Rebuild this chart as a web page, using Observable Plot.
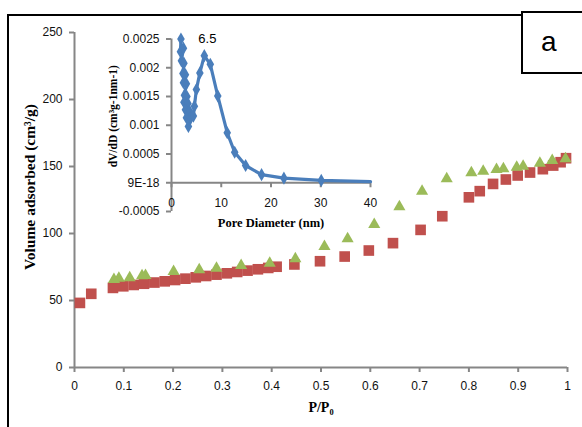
<!DOCTYPE html>
<html>
<head>
<meta charset="utf-8">
<script src="https://cdn.jsdelivr.net/npm/d3@7"></script>
<script src="https://cdn.jsdelivr.net/npm/@observablehq/plot@0.6"></script>
<style>
  html, body { margin: 0; padding: 0; background: #fff; }
  #wrap { position: relative; width: 582px; height: 427px; overflow: hidden; background: #fff; }
  #frame { position: absolute; left: 7px; top: 14px; width: 640px; height: 500px; border: 2px solid #000; }
  #main { position: absolute; left: 0; top: 0; }
  #inset { position: absolute; left: 90px; top: 20px; }
  #box { position: absolute; left: 521px; top: 11px; width: 90px; height: 63px; border: 2px solid #000; background: #fff; box-sizing: border-box; }
  #boxlabel { position: absolute; left: 541px; top: 28px; font: 28px "Liberation Sans", sans-serif; line-height: 28px; color: #000; }
</style>
</head>
<body>
<div id="wrap">
  <div id="frame"></div>
  <div id="main"></div>
  <div id="inset"></div>
  <div id="box"></div>
  <div id="boxlabel">a</div>
</div>
<script>
// ---- Main isotherm: adsorption (red squares) ----
const adsP = [0.011, 0.034, 0.078, 0.099, 0.120, 0.141, 0.162, 0.183, 0.204, 0.225, 0.246, 0.267, 0.288, 0.309, 0.330, 0.351, 0.372, 0.393, 0.410, 0.446, 0.498, 0.548, 0.597, 0.646, 0.702, 0.746, 0.800, 0.822, 0.849, 0.875, 0.899, 0.924, 0.950, 0.971, 0.986, 0.997];
const adsV = [48.2, 55.0, 59.4, 60.6, 61.6, 62.5, 63.4, 64.3, 65.3, 66.3, 67.3, 68.3, 69.3, 70.3, 71.3, 72.3, 73.3, 74.3, 75.2, 76.9, 79.3, 82.8, 87.3, 92.8, 102.7, 112.9, 127.0, 131.6, 137.0, 140.3, 143.3, 145.5, 148.0, 150.7, 153.2, 156.2];
// ---- desorption (green triangles) ----
const desP = [0.996, 0.969, 0.944, 0.910, 0.897, 0.870, 0.856, 0.829, 0.805, 0.755, 0.705, 0.659, 0.608, 0.554, 0.507, 0.448, 0.396, 0.338, 0.288, 0.253, 0.201, 0.144, 0.137, 0.112, 0.090, 0.080];
const desV = [155.7, 154.5, 152.5, 150.2, 149.5, 148.3, 147.8, 146.5, 145.3, 140.8, 131.6, 120.0, 106.7, 96.0, 90.3, 81.1, 77.8, 76.1, 74.1, 72.9, 71.6, 68.7, 68.4, 66.9, 66.6, 65.7];

const xTicks = [0, 0.1, 0.2, 0.3, 0.4, 0.5, 0.6, 0.7, 0.8, 0.9, 1];
const xTickLabels = ["0", "0.1", "0.2", "0.3", "0.4", "0.5", "0.6", "0.7", "0.8", "0.9", "1"];
const yTicks = [0, 50, 100, 150, 200, 250];
const yTickLabels = ["0", "50", "100", "150", "200", "250"];

// ---- Inset: pore size distribution ----
const poreD = [1.9, 1.8, 2.4, 2.0, 2.5, 2.3, 2.8, 2.4, 3.0, 2.6, 3.1, 2.5, 3.3, 2.8, 3.6, 3.0, 3.8, 3.4, 4.4, 4.6, 5.0, 5.7, 6.6, 7.8, 9.3, 11.2, 12.7, 14.9, 18.1, 22.6, 30.1, 40];
const poreV = [0.00250, 0.00228, 0.00234, 0.00212, 0.00208, 0.00190, 0.00188, 0.00174, 0.00172, 0.00152, 0.00150, 0.00140, 0.00138, 0.00127, 0.00125, 0.00113, 0.00113, 0.00098, 0.00116, 0.00133, 0.00162, 0.00191, 0.00221, 0.00206, 0.00151, 0.00087, 0.00053, 0.00030, 0.00014, 0.00008, 0.00004, 0.00002];
const poreMarked = poreD.map((d, i) => i < poreD.length - 1);
const insetXTicks = [0, 10, 20, 30, 40];
const insetXLabels = ["0", "10", "20", "30", "40"];
const insetYTicks = [-0.0005, 0, 0.0005, 0.001, 0.0015, 0.002, 0.0025];
const insetYLabels = ["-0.0005", "9E-18", "0.0005", "0.001", "0.0015", "0.002", "0.0025"];
const peakIndex = 22;
const peakText = "6.5";

const ads = adsP.map((p, i) => ({p, v: adsV[i]}));
const des = desP.map((p, i) => ({p, v: desV[i]}));
const pore = poreD.map((d, i) => ({d, v: poreV[i], m: poreMarked[i]}));

const axisGray = "#868686";
const serif = "'Liberation Serif', 'Times New Roman', serif";

const main = Plot.plot({
  width: 582, height: 427,
  marginLeft: 74, marginRight: 15, marginTop: 32, marginBottom: 60,
  style: {background: "transparent", fontFamily: "'Liberation Sans', sans-serif", fontSize: "12px", color: "#000"},
  x: {domain: [0, 1]},
  y: {domain: [0, 250]},
  marks: [
    Plot.axisX(xTicks, {tickSize: 5, tickPadding: 9, stroke: axisGray, strokeWidth: 2, fill: "#111", tickFormat: d => xTickLabels[xTicks.indexOf(d)], label: null}),
    Plot.axisY(yTicks, {tickSize: 5, tickPadding: 7, stroke: axisGray, strokeWidth: 2, fill: "#111", tickFormat: d => yTickLabels[yTicks.indexOf(d)], label: null}),
    Plot.ruleY([0], {stroke: axisGray, strokeWidth: 2}),
    Plot.ruleX([0], {stroke: axisGray, strokeWidth: 2}),
    Plot.dot(ads, {x: "p", y: "v", symbol: "square", r: 6, fill: "#C0504D"}),
    Plot.dot(des, {x: "p", y: "v", symbol: "triangle", r: 4.5, fill: "#9BBB59"}),
    Plot.text(["P/P\u2080"], {frameAnchor: "bottom", textAnchor: "middle", lineAnchor: "middle", dy: 40, fontFamily: serif, fontWeight: "bold", fontSize: 14, fill: "#000"}),
    Plot.text(["Volume adsorbed (cm\u00B3/g)"], {frameAnchor: "left", textAnchor: "middle", lineAnchor: "middle", rotate: -90, dx: -44, dy: -13, fontFamily: serif, fontWeight: "bold", fontSize: 15.5, fill: "#000"})
  ]
});
document.getElementById("main").appendChild(main);

const inset = Plot.plot({
  width: 300, height: 215,
  marginLeft: 81, marginRight: 20, marginTop: 18.5, marginBottom: 24,
  style: {background: "transparent", fontFamily: "'Liberation Sans', sans-serif", fontSize: "12px", color: "#000"},
  x: {domain: [0, 40], axis: null},
  y: {domain: [-0.0005, 0.0025], axis: null},
  marks: [
    Plot.axisY(insetYTicks, {tickSize: 5, tickPadding: 7, stroke: axisGray, strokeWidth: 2, fill: "#111", tickFormat: d => insetYLabels[insetYTicks.indexOf(d)], label: null}),
    Plot.ruleX([0], {stroke: axisGray, strokeWidth: 2}),
    Plot.ruleY([0], {stroke: axisGray, strokeWidth: 2}),
    Plot.ruleX(insetXTicks, {x: d => d, y1: () => 0, y2: () => 0, insetBottom: -5, stroke: axisGray, strokeWidth: 2}),
    Plot.text(insetXTicks, {x: d => d, y: () => 0, dy: 20, text: d => insetXLabels[insetXTicks.indexOf(d)], fill: "#111"}),
    Plot.line(pore, {x: "d", y: "v", stroke: "#4A7EBB", strokeWidth: 3.2}),
    Plot.dot(pore.filter(p => p.m), {x: "d", y: "v", symbol: "diamond", r: 4, fill: "#4A7EBB"}),
    Plot.text([pore[peakIndex]], {x: "d", y: "v", text: () => peakText, dy: -17, dx: 3, fontSize: 13, fill: "#000"}),
    Plot.text(["Pore Diameter (nm)"], {frameAnchor: "bottom", textAnchor: "middle", lineAnchor: "middle", dy: 11, fontFamily: serif, fontWeight: "bold", fontSize: 12.5, fill: "#000"}),
    Plot.text(["dV/dD (cm\u00B3g-1nm-1)"], {frameAnchor: "left", textAnchor: "middle", lineAnchor: "middle", rotate: -90, dx: -58, dy: -9, fontFamily: serif, fontWeight: "bold", fontSize: 11.5, fill: "#000"})
  ]
});
document.getElementById("inset").appendChild(inset);
</script>
</body>
</html>
